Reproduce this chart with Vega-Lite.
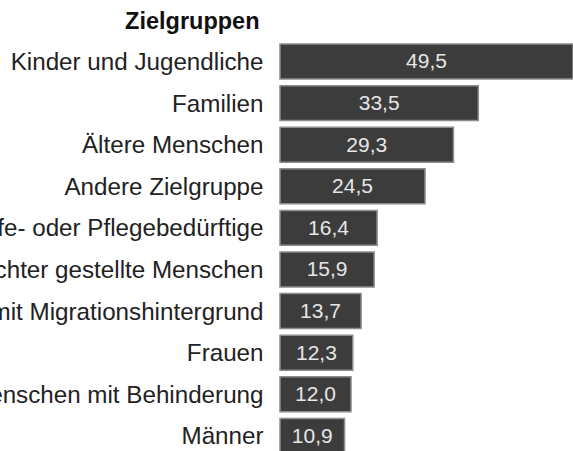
{
  "$schema": "https://vega.github.io/schema/vega-lite/v6.json",
  "width": 293,
  "height": 416,
  "autosize": "none",
  "padding": {"left": 280, "top": 40.7, "right": 0, "bottom": 0},
  "background": "white",
  "config": {
    "view": {"stroke": null},
    "font": "Liberation Sans",
    "locale": {"number": {"decimal": ",", "thousands": ".", "grouping": [3], "currency": ["", " €"]}}
  },
  "data": {
    "values": [
      {"group": "Kinder und Jugendliche", "value": 49.5},
      {"group": "Familien", "value": 33.5},
      {"group": "Ältere Menschen", "value": 29.3},
      {"group": "Andere Zielgruppe", "value": 24.5},
      {"group": "Hilfe- oder Pflegebedürftige", "value": 16.4},
      {"group": "Sozial schlechter gestellte Menschen", "value": 15.9},
      {"group": "Menschen mit Migrationshintergrund", "value": 13.7},
      {"group": "Frauen", "value": 12.3},
      {"group": "Menschen mit Behinderung", "value": 12.0},
      {"group": "Männer", "value": 10.9}
    ]
  },
  "encoding": {
    "y": {
      "field": "group",
      "type": "nominal",
      "sort": null,
      "scale": {"paddingInner": 0.16, "paddingOuter": 0.08},
      "axis": {
        "title": "Zielgruppen",
        "titleAngle": 0,
        "titleAlign": "right",
        "titleX": -21,
        "titleY": -12,
        "titleBaseline": "alphabetic",
        "titleFont": "Liberation Sans",
        "titleFontSize": 23.5,
        "titleFontWeight": "bold",
        "titleColor": "#111111",
        "labelFont": "Liberation Sans",
        "labelFontSize": 24.2,
        "labelColor": "#222222",
        "labelPadding": 17,
        "labelOffset": 1.5,
        "labelLimit": 600,
        "ticks": false,
        "domain": false
      }
    }
  },
  "layer": [
    {
      "mark": {"type": "bar", "fill": "#3c3c3c", "stroke": "#8c8c8c", "strokeWidth": 1.5},
      "encoding": {
        "x": {"field": "value", "type": "quantitative", "scale": {"domain": [0, 49.5]}, "axis": null}
      }
    },
    {
      "mark": {"type": "text", "color": "#e6e6e6", "fontSize": 21, "baseline": "middle", "align": "center", "dy": 1, "font": "Liberation Sans"},
      "encoding": {
        "x": {"field": "value", "type": "quantitative", "scale": {"domain": [0, 99]}, "axis": null},
        "text": {"field": "value", "type": "quantitative", "format": ".1f"}
      }
    }
  ],
  "resolve": {"scale": {"x": "independent"}}
}
